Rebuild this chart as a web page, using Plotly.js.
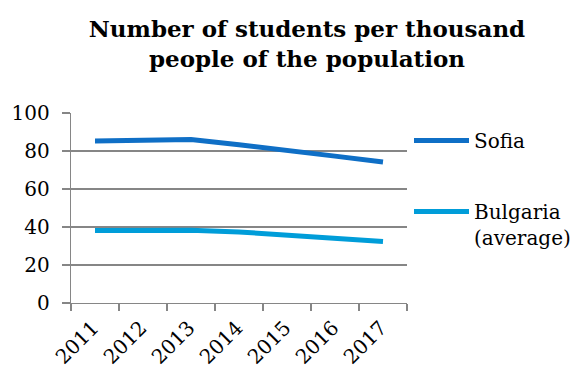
<!DOCTYPE html>
<html><head><meta charset="utf-8">
<script src="https://cdn.plot.ly/plotly-3.0.1.min.js"></script>
<style>html,body{margin:0;padding:0;background:#fff}#chart{width:574px;height:369px}</style>
</head><body><div id="chart"></div>
<script>
const years = ['2011','2012','2013','2014','2015','2016','2017'];
const sofia = [85.3, 85.7, 86.0, 83.3, 80.5, 77.3, 74.2];
const bulgaria = [38.2, 38.3, 38.3, 37.4, 35.9, 34.0, 32.4];
const seriesNames = ['Sofia', 'Bulgaria<br>(average)'];
const yTicks = [0, 20, 40, 60, 80, 100];

const FONT = '"DejaVu Serif", "Liberation Serif", serif';
const GRID = '#868686';

const traces = [
  {x: years, y: sofia, name: seriesNames[0], type: 'scatter', mode: 'lines',
   line: {color: '#0F6FC6', width: 5}, legendgroup: 'a'},
  {x: years, y: bulgaria, name: seriesNames[1], type: 'scatter', mode: 'lines',
   line: {color: '#009DD9', width: 5}, legendgroup: 'b'}
];

const layout = {
  width: 574, height: 369,
  margin: {l: 71, r: 167, t: 113, b: 66, pad: 0, autoexpand: false},
  paper_bgcolor: '#fff', plot_bgcolor: '#fff',
  font: {family: FONT, color: '#000', size: 20},
  title: {
    text: '<b>Number of students per thousand<br>people of the population</b>',
    font: {family: FONT, size: 23, color: '#000'},
    x: 307/574, xref: 'container', xanchor: 'center',
    y: 1 - 37/369, yref: 'container', yanchor: 'top'
  },
  xaxis: {
    type: 'category', range: [-0.5, 6.5], automargin: false,
    showline: true, linecolor: GRID, linewidth: 1.3,
    ticks: 'outside', tickson: 'boundaries', ticklen: 7, tickcolor: GRID, tickwidth: 1.3,
    tickangle: -45, showgrid: false, zeroline: false,
    ticklabelstandoff: 4, ticklabelshift: -2,
    tickfont: {family: FONT, size: 20, color: '#000'}
  },
  yaxis: {
    range: [0, 100], tickvals: yTicks, ticktext: yTicks.map(String), automargin: false,
    showline: true, linecolor: GRID, linewidth: 1.3,
    ticks: 'outside', ticklen: 8, tickcolor: GRID, tickwidth: 1.3,
    showgrid: true, gridcolor: GRID, gridwidth: 1.3, zeroline: false,
    ticklabelstandoff: 8,
    tickfont: {family: FONT, size: 20, color: '#000'}
  },
  showlegend: true,
  legend: {
    xref: 'container', yref: 'container',
    x: 409/574, xanchor: 'left', y: 1 - 121/369, yanchor: 'top',
    traceorder: 'grouped', tracegroupgap: 42, valign: 'top',
    itemwidth: 55,
    font: {family: FONT, size: 20, color: '#000'},
    bgcolor: 'rgba(0,0,0,0)'
  }
};

Plotly.newPlot('chart', traces, layout, {displayModeBar: false, staticPlot: true});
</script></body></html>
